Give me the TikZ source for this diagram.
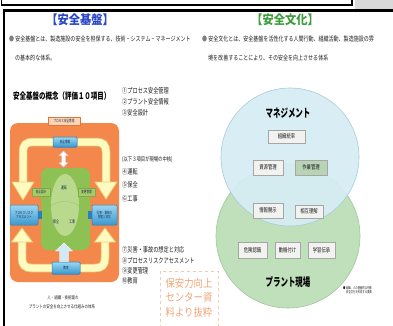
\documentclass[tikz,border=0pt]{standalone}
\usepackage{fontspec}
\usetikzlibrary{shadows}
\newfontfamily\jpa[FakeStretch=0.9]{Noto Sans CJK JP}
\newfontfamily\jpb[FakeStretch=0.76]{Noto Sans CJK JP}
\newfontfamily\jpc[FakeStretch=0.72]{Noto Sans CJK JP}
\newfontfamily\jpd[FakeStretch=0.65]{Noto Sans CJK JP}
\newfontfamily\jpe[FakeStretch=0.85]{Noto Sans CJK JP}
\definecolor{titleblue}{HTML}{2A46C8}
\definecolor{titlegreen}{HTML}{3E9E3E}
\definecolor{txt}{HTML}{1E1E1E}
\definecolor{orangebg}{HTML}{F4874B}
\definecolor{orangelight}{HTML}{FCD5B5}
\definecolor{orangebd}{HTML}{E0763A}
\definecolor{yelfill}{HTML}{FFFAC0}
\definecolor{yelbd}{HTML}{E6D27A}
\definecolor{greenrect}{HTML}{8DC153}
\definecolor{greeninner}{HTML}{B9D98C}
\definecolor{greenbox}{HTML}{A5CB6A}
\definecolor{greenboxbd}{HTML}{7FAA45}
\definecolor{bluetop}{HTML}{9AD6F2}
\definecolor{bluebot}{HTML}{3A98CF}
\definecolor{bluebd}{HTML}{2A80B8}
\definecolor{navytext}{HTML}{1A2A50}
\definecolor{uparrow}{HTML}{D2E9F6}
\definecolor{vblue}{HTML}{D6ECF4}
\definecolor{vbluebd}{HTML}{AACBDB}
\definecolor{vgreen}{HTML}{BFE0BA}
\definecolor{vgreenbd}{HTML}{9FC79C}
\definecolor{vbox}{HTML}{F2F2F0}
\definecolor{vboxbd}{HTML}{A6A6A6}
\definecolor{vboxg}{HTML}{B9D3B5}
\definecolor{srcorange}{HTML}{F2A577}
\definecolor{srcbd}{HTML}{F2CBB0}
\definecolor{graybar}{HTML}{D9D9D9}
\begin{document}
\begin{tikzpicture}[x=1pt,y=-1pt,
  bluebox/.style={draw=bluebd, line width=0.5pt, top color=bluetop, bottom color=bluebot,
    rounded corners=1pt, inner sep=0.3pt, align=center, text=navytext,
    font=\jpd\fontsize{4}{4.8}\selectfont},
  greensmall/.style={draw=greenboxbd, line width=0.4pt, fill=greenbox, inner sep=0.3pt,
    text=navytext, font=\jpd\fontsize{4}{4.8}\selectfont, minimum height=8pt},
  vboxstyle/.style={draw=vboxbd, line width=0.8pt, fill=vbox, inner sep=0.5pt,
    text=txt, font=\jpc\fontsize{6}{6.5}\selectfont,
    drop shadow={shadow xshift=0.8pt, shadow yshift=-0.8pt, fill=gray!40}},
  listitem/.style={anchor=west, inner sep=0pt, text=txt, font=\jpc\fontsize{7.2}{8}\selectfont},
  bullet/.style={anchor=west, inner sep=0pt, text=txt, font=\jpb\fontsize{6.6}{7.5}\selectfont},
  yshaftout/.style={draw=yelbd, line width=8.5pt},
  yshaftin/.style={draw=yelfill, line width=7pt},
  yhead/.style={fill=yelfill, draw=yelbd, line width=0.8pt, line join=round}
]
\useasboundingbox (0,0) rectangle (393,325);
\clip (0,0) rectangle (393,325);
\fill[white] (0,0) rectangle (393,325);

% top bar and frame
\draw[black, line width=1.2pt, fill=white] (1.5,-5) rectangle (352,5);
\fill[graybar] (355,0) rectangle (393,8.5);
\draw[black, line width=2.6pt] (3.8,330) -- (3.8,10.5) -- (400,10.5);

% titles
\node[text=titleblue, font=\jpa\bfseries\fontsize{12.5}{13}\selectfont, inner sep=0pt] (t1) at (80,20) {【安全基盤】};
\node[text=titlegreen, font=\jpa\bfseries\fontsize{12.5}{13}\selectfont, inner sep=0pt] (t2) at (285,20) {【安全文化】};

% bullet texts
\node[bullet] (b1) at (9,39) {{\color{gray}●}\,安全基盤とは、製造施設の安全を担保する、技術・システム・マネージメント};
\node[bullet] (b2) at (15,58) {の基本的な体系。};
\node[bullet] (b3) at (202,39) {{\color{gray}●}\,安全文化とは、安全基盤を活性化する人間行動、組織活動、製造施設の雰};
\node[bullet] (b4) at (208,58) {境を改善することにより、その安全を向上させる体系};

% heading left
\node[anchor=west, inner sep=0pt, text=black, font=\jpc\bfseries\fontsize{9}{10}\selectfont] (h1) at (13,96) {安全基盤の概念（評価１０項目）};

% orange box
\fill[orangebg, rounded corners=8pt] (10,123) rectangle (119,282);

% green rect and inner shape
\fill[greenrect, rounded corners=7pt] (41,168) rectangle (90,250);
\fill[greeninner] (65,205) ellipse [x radius=14pt, y radius=31pt];
\draw[greenrect!80!black, line width=0.3pt, opacity=0.4] (51,206) .. controls (58,200) and (72,200) .. (79,206);

% yellow arrows (top)
\node[draw=orangebd, line width=0.5pt, fill=orangelight, inner sep=0.3pt, minimum width=32pt, minimum height=8pt,
  text=navytext, font=\jpd\fontsize{4}{4.8}\selectfont] (pm) at (64,121) {プロセス安全管理};
\node[bluebox, minimum width=24pt, minimum height=10pt] (info) at (65,142) {安全情報};

\coordinate (tl) at (23,183);
\coordinate (tr) at (106,183);
\path[yshaftout] (info.west) -- (33,142) .. controls (26,142) and (23,145) .. (23,152) -- (tl);
\path[yshaftin] (info.west) -- (33,142) .. controls (26,142) and (23,145) .. (23,152) -- (tl);
\draw[yhead] (12,182) -- (34,182) -- (23,200) -- cycle;
\path[yshaftout] (info.east) -- (96,142) .. controls (103,142) and (106,145) .. (106,152) -- (tr);
\path[yshaftin] (info.east) -- (96,142) .. controls (103,142) and (106,145) .. (106,152) -- (tr);
\draw[yhead] (95,182) -- (117,182) -- (106,199) -- cycle;
\node[bluebox, minimum width=24pt, minimum height=10pt] (info2) at (65,142) {安全情報};

% white double arrow
\draw[fill=white, draw=gray!40, line width=0.4pt] (63.5,151) -- (68,155.5) -- (65.5,155.5) -- (65.5,162.5) -- (68,162.5) -- (63.5,167) -- (59,162.5) -- (61.5,162.5) -- (61.5,155.5) -- (59,155.5) -- cycle;

% inner texts
\node[inner sep=0pt, text=navytext, font=\jpd\fontsize{4.5}{5}\selectfont] (unten) at (64,188) {運転};
\node[inner sep=0pt, text=navytext, font=\jpd\fontsize{4.5}{5}\selectfont] (hozen) at (56,222) {保全};
\node[inner sep=0pt, text=navytext, font=\jpd\fontsize{4.5}{5}\selectfont] (kouji) at (72,222) {工事};

% small green boxes
\node[greensmall, minimum width=18pt] (sekkei) at (41,192) {安全設計};
\node[greensmall, minimum width=17pt] (henkou) at (86.5,192) {変更管理};

% side blue boxes
\fill[bluebd] (38,211) rectangle (42,219);
\fill[bluebd] (88,211) rectangle (92,219);
\node[bluebox, minimum width=28pt, minimum height=20pt] (pra) at (24,215) {プロセスリスク\\アセスメント};
\node[bluebox, minimum width=25pt, minimum height=20pt] (sai) at (104.5,215) {災害・事故の\\想定と対応};

% bottom
\node[bluebox, minimum width=28pt, minimum height=12pt] (kyo) at (66,268) {教育};
\coordinate (bl) at (22,241);
\coordinate (br) at (105,241);
\path[yshaftout] (kyo.west) -- (32,268) .. controls (25,268) and (22,265) .. (22,258) -- (bl);
\path[yshaftin] (kyo.west) -- (32,268) .. controls (25,268) and (22,265) .. (22,258) -- (bl);
\draw[yhead] (11.5,242) -- (32.5,242) -- (22,228) -- cycle;
\path[yshaftout] (kyo.east) -- (95,268) .. controls (102,268) and (105,265) .. (105,258) -- (br);
\path[yshaftin] (kyo.east) -- (95,268) .. controls (102,268) and (105,265) .. (105,258) -- (br);
\draw[yhead] (94.5,242) -- (115.5,242) -- (105,228) -- cycle;
\node[bluebox, minimum width=28pt, minimum height=12pt] (kyo2) at (66,268) {教育};

% light blue up arrow
\draw[fill=uparrow, draw=white, line width=0.4pt] (64,243) -- (72.5,251) -- (68.5,251) -- (68.5,261.5) -- (59.5,261.5) -- (59.5,251) -- (55.5,251) -- cycle;

% caption under orange box
\node[inner sep=0pt, text=txt, font=\jpb\fontsize{4.6}{5}\selectfont] (cap1) at (63,298) {人・組織・技術面の};
\node[inner sep=0pt, text=txt, font=\jpb\fontsize{4.6}{5}\selectfont] (cap2) at (62,307) {プラントの安全を向上させる仕組みの体系};

% middle list
\node[listitem] (l1) at (122,91) {①プロセス安全管理};
\node[listitem] (l2) at (122,102) {②プラント安全情報};
\node[listitem] (l3) at (122,113) {③安全設計};
\node[listitem, font=\jpc\fontsize{6}{7}\selectfont] (l0) at (122,160) {(以下３項目が現場の中核)};
\node[listitem] (l4) at (122,172) {④運転};
\node[listitem] (l5) at (122,185) {⑤保全};
\node[listitem] (l6) at (122,199) {⑥工事};
\node[listitem] (l7) at (122,250) {⑦災害・事故の想定と対応};
\node[listitem] (l8) at (122,261) {⑧プロセスリスクアセスメント};
\node[listitem] (l9) at (122,271) {⑨変更管理};
\node[listitem] (l10) at (122,281) {⑩教育};

% source box
\draw[srcbd, dashed, line width=0.7pt] (160,271) rectangle (218,330);
\node[inner sep=0pt, align=center, text=srcorange, font=\jpe\fontsize{11}{14.5}\selectfont] (src) at (189,297.5) {保安力向上\\センター資\\料より抜粋};

% Venn
\fill[vgreen] (288,236) circle (72pt);
\draw[vgreenbd, line width=0.6pt] (288,236) circle (72pt);
\fill[vblue, opacity=0.93] (290,157) circle (69pt);
\draw[vbluebd, line width=0.6pt] (290,157) circle (69pt);

\node[inner sep=0pt, text=black, font=\jpd\bfseries\fontsize{11.5}{12}\selectfont] (mg) at (288,113) {マネジメント};
\node[inner sep=0pt, text=black, font=\jpd\bfseries\fontsize{11.5}{12}\selectfont] (pg) at (288,282) {プラント現場};

\node[vboxstyle, minimum width=37pt, minimum height=13pt] (v1) at (286.5,136.5) {組織統率};
\node[vboxstyle, minimum width=30pt, minimum height=15pt] (v2) at (268,167.5) {資源管理};
\node[vboxstyle, fill=vboxg, minimum width=32pt, minimum height=15pt] (v3) at (311,167.5) {作業管理};
\node[vboxstyle, minimum width=30pt, minimum height=15pt] (v4) at (268,210.5) {情報開示};
\node[vboxstyle, minimum width=28pt, minimum height=13pt] (v5) at (309,211.5) {相互理解};
\node[vboxstyle, minimum width=29pt, minimum height=16pt] (v6) at (252.5,250) {危険認識};
\node[vboxstyle, minimum width=25pt, minimum height=16pt] (v7) at (287.5,250) {動機付け};
\node[vboxstyle, minimum width=27pt, minimum height=16pt] (v8) at (321.5,250) {学習伝承};

% note
\node[anchor=west, inner sep=0pt, align=left, text=txt, font=\jpd\fontsize{3.6}{4.6}\selectfont] (note) at (343,290) {● 組織、人の基盤的な行動\\\hspace{3pt}安全文化を形成する要素};
\end{tikzpicture}
\end{document}
